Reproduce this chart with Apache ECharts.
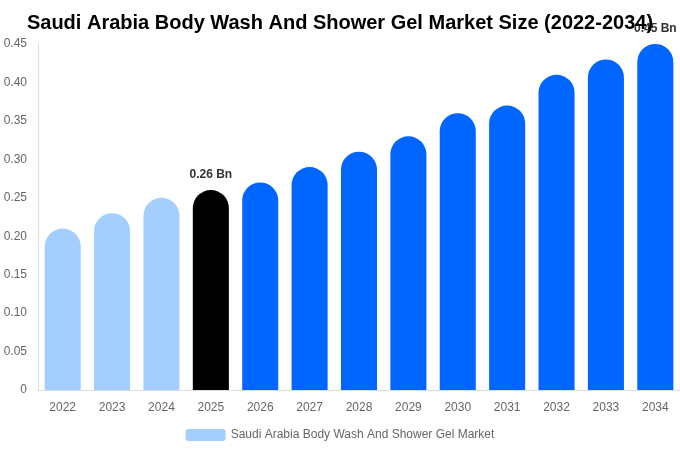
<!DOCTYPE html>
<html>
<head>
<meta charset="utf-8">
<script src="https://cdn.jsdelivr.net/npm/echarts@6/dist/echarts.min.js"></script>
<style>html,body{margin:0;padding:0;background:#fff}#c{width:680px;height:450px}</style>
</head>
<body>
<div id="c"></div>
<script>
const categories = ['2022','2023','2024','2025','2026','2027','2028','2029','2030','2031','2032','2033','2034'];
const values = [0.21, 0.23, 0.25, 0.26, 0.27, 0.29, 0.31, 0.33, 0.36, 0.37, 0.41, 0.43, 0.45];
const barColors = ['#a3cefd','#a3cefd','#a3cefd','#000000','#0066ff','#0066ff','#0066ff','#0066ff','#0066ff','#0066ff','#0066ff','#0066ff','#0066ff'];
const labelledIndexes = [3, 12];
const yTicks = {min: 0, max: 0.45, interval: 0.05};

const chart = echarts.init(document.getElementById('c'));
chart.setOption({
  animation: false,
  title: {
    text: 'Saudi Arabia Body Wash And Shower Gel Market Size (2022-2034)',
    left: 'center', top: 8,
    textStyle: {fontFamily: 'Liberation Sans, Arial, sans-serif', fontSize: 20, fontWeight: 'bold', color: '#000'}
  },
  legend: {
    bottom: 4, left: 'center',
    itemWidth: 40, itemHeight: 12,
    textStyle: {fontFamily: 'Liberation Sans, Arial, sans-serif', fontSize: 12, color: '#666'},
    data: [{name: 'Saudi Arabia Body Wash And Shower Gel Market', itemStyle: {color: '#a3cefd'}}]
  },
  grid: {left: 38, right: 0, top: 44, bottom: 60, containLabel: false},
  xAxis: {
    type: 'category', data: categories,
    axisLine: {show: true, lineStyle: {color: '#ddd'}},
    axisTick: {show: false},
    axisLabel: {fontFamily: 'Liberation Sans, Arial, sans-serif', fontSize: 12, color: '#666', margin: 12}
  },
  yAxis: {
    type: 'value', min: yTicks.min, max: yTicks.max, interval: yTicks.interval,
    axisLine: {show: true, lineStyle: {color: '#ddd'}},
    axisTick: {show: false},
    splitLine: {show: false},
    axisLabel: {fontFamily: 'Liberation Sans, Arial, sans-serif', fontSize: 12, color: '#666', margin: 11,
      formatter: v => v === 0 ? '0' : v.toFixed(2)}
  },
  series: [{
    name: 'Saudi Arabia Body Wash And Shower Gel Market',
    type: 'bar',
    barWidth: '73%',
    data: values.map((v, i) => ({
      value: v,
      itemStyle: {color: barColors[i], borderRadius: [18, 18, 0, 0]},
      label: {
        show: labelledIndexes.includes(i),
        position: 'top', distance: 9,
        formatter: p => p.value.toFixed(2) + ' Bn',
        fontFamily: 'Liberation Sans, Arial, sans-serif', fontSize: 12, fontWeight: 'bold', color: '#333'
      }
    }))
  }]
});
</script>
</body>
</html>
